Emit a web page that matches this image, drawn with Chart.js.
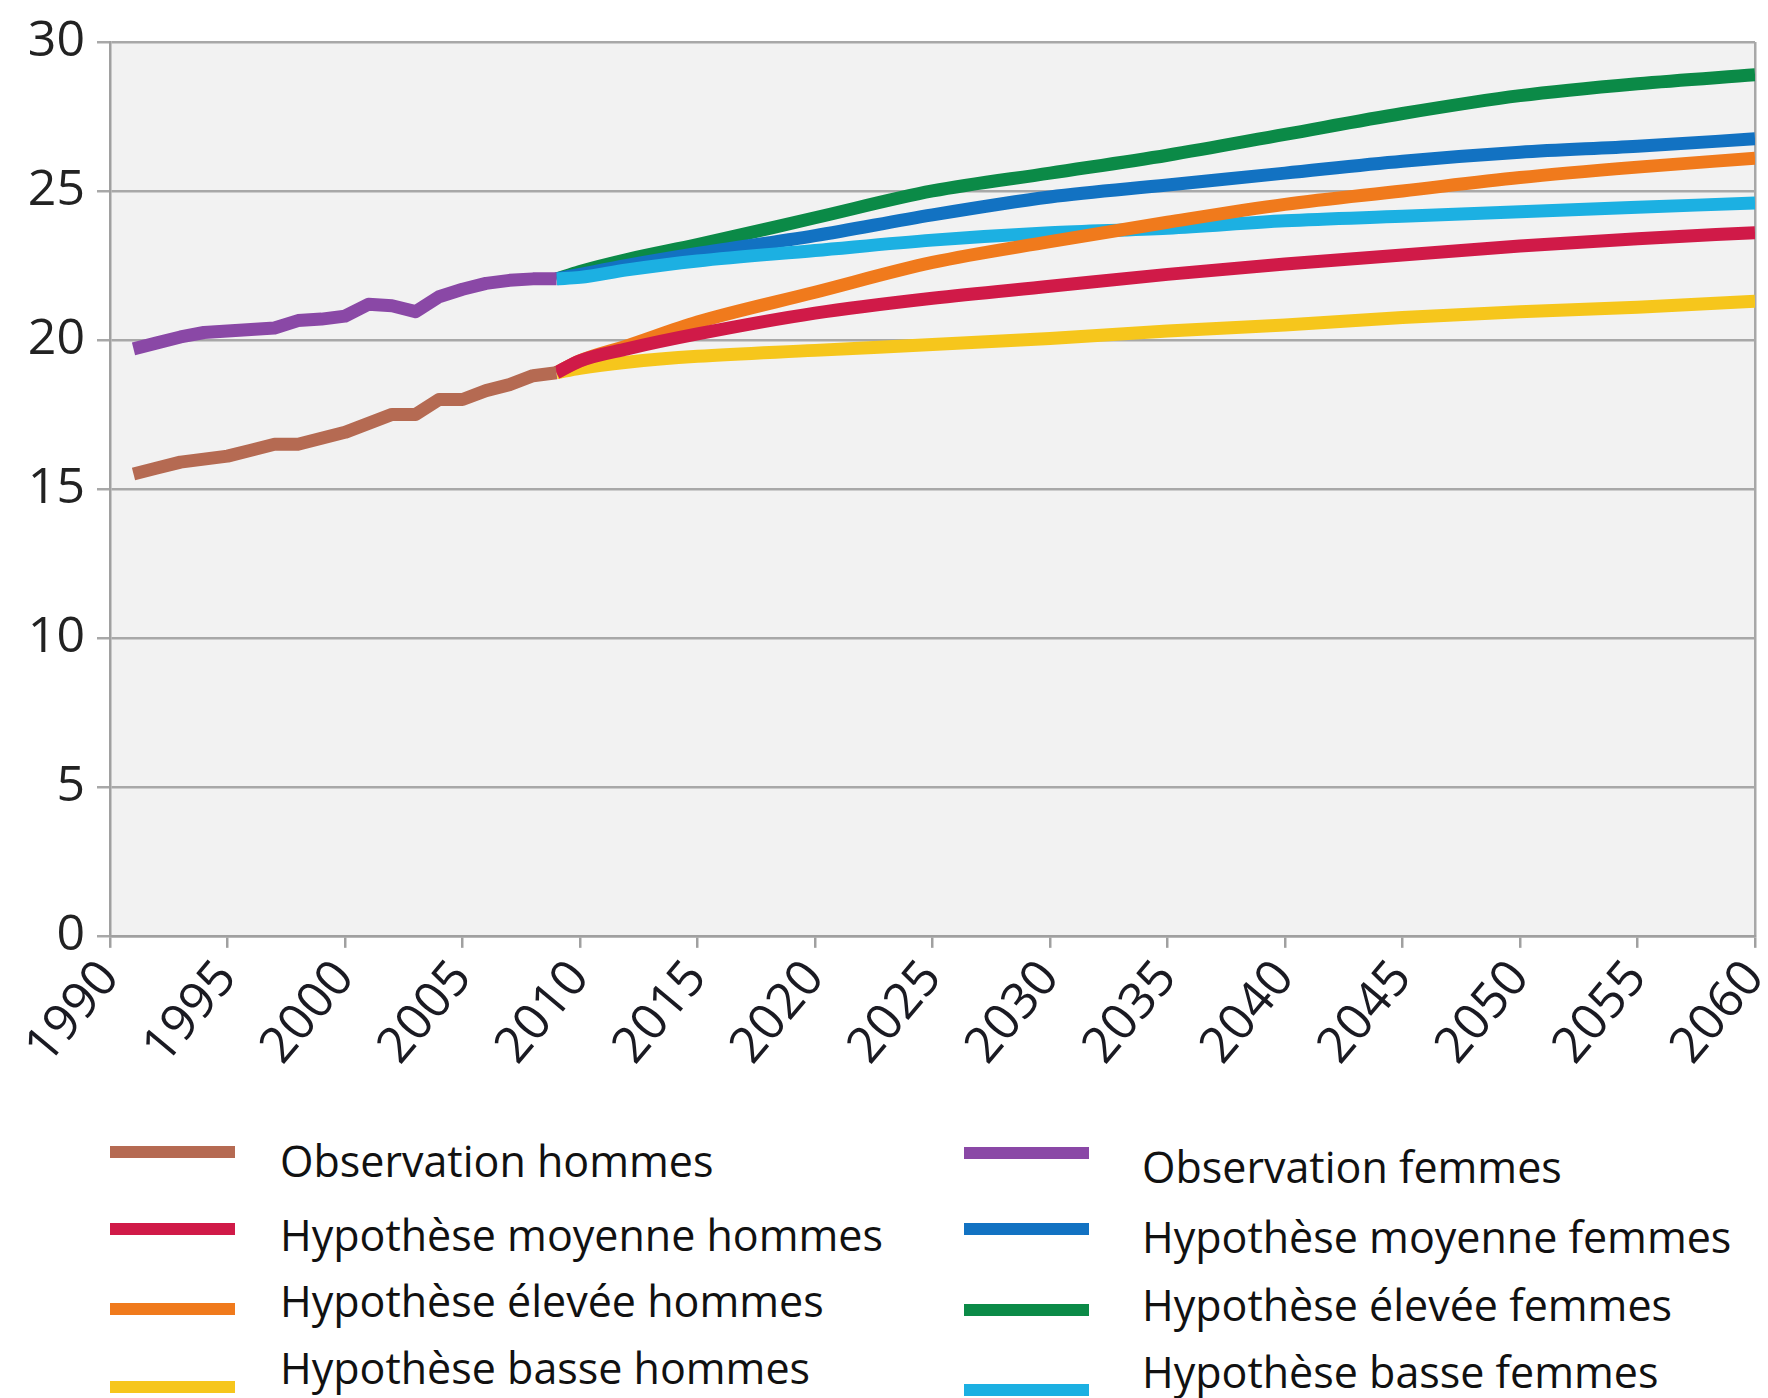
<!DOCTYPE html>
<html>
<head>
<meta charset="utf-8">
<script src="https://cdn.jsdelivr.net/npm/chart.js@4.4.0/dist/chart.umd.min.js"></script>
<style>
    body { margin: 0; background: #fff; font-family: "Open Sans", sans-serif; }
    #wrap { position: relative; width: 1768px; height: 1398px; overflow: hidden; }
    #chartBox { position: absolute; left: 0; top: 0; width: 1768px; height: 1078px; }
    .swatch { position: absolute; width: 125px; height: 12px; }
    .label { position: absolute; font-size: 43px; line-height: 50px; color: #111; white-space: nowrap; }
</style>
</head>
<body>
<div id="wrap">
    <div id="chartBox"><canvas id="ageChart"></canvas></div>
    <div id="legend"></div>
</div>
<script>
// observed values 1991-2009
const obsYears = [1991, 1992, 1993, 1994, 1995, 1996, 1997, 1998, 1999, 2000, 2001, 2002, 2003, 2004, 2005, 2006, 2007, 2008, 2009];
const obsHommes = [15.5, 15.7, 15.9, 16.0, 16.1, 16.3, 16.5, 16.5, 16.7, 16.9, 17.2, 17.5, 17.5, 18.0, 18.0, 18.3, 18.5, 18.8, 18.9];
const obsFemmes = [19.7, 19.9, 20.1, 20.25, 20.3, 20.35, 20.4, 20.65, 20.7, 20.8, 21.2, 21.15, 20.95, 21.45, 21.7, 21.9, 22.0, 22.05, 22.05];

// projections 2009-2060
const projYears = [2009, 2010, 2012, 2015, 2020, 2025, 2030, 2035, 2040, 2045, 2050, 2055, 2060];
const moyHommes = [18.9, 19.3, 19.7, 20.2, 20.9, 21.4, 21.8, 22.2, 22.55, 22.85, 23.15, 23.4, 23.6];
const eleHommes = [18.9, 19.3, 19.8, 20.6, 21.6, 22.6, 23.3, 23.95, 24.55, 25.0, 25.45, 25.8, 26.1];
const basHommes = [18.9, 19.05, 19.25, 19.45, 19.65, 19.85, 20.05, 20.3, 20.5, 20.75, 20.95, 21.1, 21.3];
const moyFemmes = [22.05, 22.2, 22.5, 22.9, 23.5, 24.2, 24.8, 25.2, 25.6, 26.0, 26.3, 26.5, 26.75];
const eleFemmes = [22.05, 22.3, 22.7, 23.2, 24.1, 25.0, 25.6, 26.2, 26.9, 27.6, 28.2, 28.6, 28.9];
const basFemmes = [22.05, 22.1, 22.35, 22.65, 23.0, 23.35, 23.6, 23.75, 24.0, 24.15, 24.3, 24.45, 24.6];

const yTicks = [0, 5, 10, 15, 20, 25, 30];

const pts = (xs, ys) => xs.map((x, i) => ({ x: x, y: ys[i] }));

function line(label, xs, ys, color, smooth) {
    return {
        label: label,
        data: pts(xs, ys),
        borderColor: color,
        backgroundColor: color,
        borderWidth: 13,
        pointRadius: 0,
        fill: false,
        borderJoinStyle: 'round',
        tension: smooth ? 0.4 : 0,
        cubicInterpolationMode: smooth ? 'monotone' : 'default'
    };
}

const datasets = [
    line('Observation hommes', obsYears, obsHommes, '#b56a52', false),
    line('Observation femmes', obsYears, obsFemmes, '#8a48a6', false),
    line('Hypothèse moyenne hommes', projYears, moyHommes, '#d01a48', true),
    line('Hypothèse élevée hommes', projYears, eleHommes, '#f07a1c', true),
    line('Hypothèse basse hommes', projYears, basHommes, '#f6c61c', true),
    line('Hypothèse basse femmes', projYears, basFemmes, '#1cb0e2', true),
    line('Hypothèse moyenne femmes', projYears, moyFemmes, '#1272c2', true),
    line('Hypothèse élevée femmes', projYears, eleFemmes, '#0b8a47', true)
];

const plotBg = {
    id: 'plotBg',
    beforeDraw(chart) {
        const { ctx, chartArea } = chart;
        ctx.save();
        ctx.fillStyle = '#f2f2f2';
        ctx.fillRect(chartArea.left, chartArea.top, chartArea.right - chartArea.left, chartArea.bottom - chartArea.top);
        ctx.restore();
    }
};

const chart = new Chart(document.getElementById('ageChart'), {
    type: 'line',
    data: { datasets: datasets },
    plugins: [plotBg],
    options: {
        responsive: true,
        maintainAspectRatio: false,
        devicePixelRatio: 1,
        animation: false,
        layout: { padding: { left: 0, right: 13, top: 39, bottom: 0 } },
        plugins: { legend: { display: false }, tooltip: { enabled: false } },
        scales: {
            x: {
                type: 'linear',
                min: 1990,
                max: 2060,
                afterFit: axis => { axis.paddingRight = 0; axis.paddingLeft = 0; },
                ticks: {
                    stepSize: 5,
                    minRotation: 50,
                    maxRotation: 50,
                    padding: 2,
                    color: '#1a1a22',
                    font: { family: 'Open Sans', size: 50 },
                    callback: v => String(v)
                },
                grid: {
                    color: ctx => ctx.tick && ctx.tick.value === 2060 ? '#a8a8a8' : 'rgba(0,0,0,0)',
                    tickColor: '#a0a0a0',
                    lineWidth: 2.5,
                    tickLength: 12
                },
                border: { color: '#a0a0a0', width: 2.5 }
            },
            y: {
                min: 0,
                max: 30,
                afterBuildTicks: axis => { axis.ticks = yTicks.map(v => ({ value: v })); },
                afterFit: axis => { axis.width = 110; },
                ticks: {
                    padding: 12,
                    color: '#222',
                    font: { family: 'Open Sans', size: 50 }
                },
                grid: { color: '#a8a8a8', lineWidth: 2.5, tickLength: 13 },
                border: { color: '#a0a0a0', width: 2.5 }
            }
        }
    }
});

// html legend, two columns like the original
const legendCols = [
    {
        names: ['Observation hommes', 'Hypothèse moyenne hommes', 'Hypothèse élevée hommes', 'Hypothèse basse hommes'],
        swatchX: 110, textX: 280,
        swatchY: [1152, 1229, 1309, 1387],
        textY: [1161, 1235, 1301, 1368]
    },
    {
        names: ['Observation femmes', 'Hypothèse moyenne femmes', 'Hypothèse élevée femmes', 'Hypothèse basse femmes'],
        swatchX: 964, textX: 1142,
        swatchY: [1153, 1229, 1310, 1390],
        textY: [1167, 1237, 1305, 1372]
    }
];
const legendEl = document.getElementById('legend');
legendCols.forEach(col => {
    col.names.forEach((name, r) => {
        const ds = chart.data.datasets.find(d => d.label === name);
        const sw = document.createElement('div');
        sw.className = 'swatch';
        sw.style.left = col.swatchX + 'px';
        sw.style.top = (col.swatchY[r] - 6) + 'px';
        sw.style.background = ds.borderColor;
        const tx = document.createElement('div');
        tx.className = 'label';
        tx.style.left = col.textX + 'px';
        tx.style.top = (col.textY[r] - 25) + 'px';
        tx.textContent = name;
        legendEl.appendChild(sw);
        legendEl.appendChild(tx);
    });
});
</script>
</body>
</html>
